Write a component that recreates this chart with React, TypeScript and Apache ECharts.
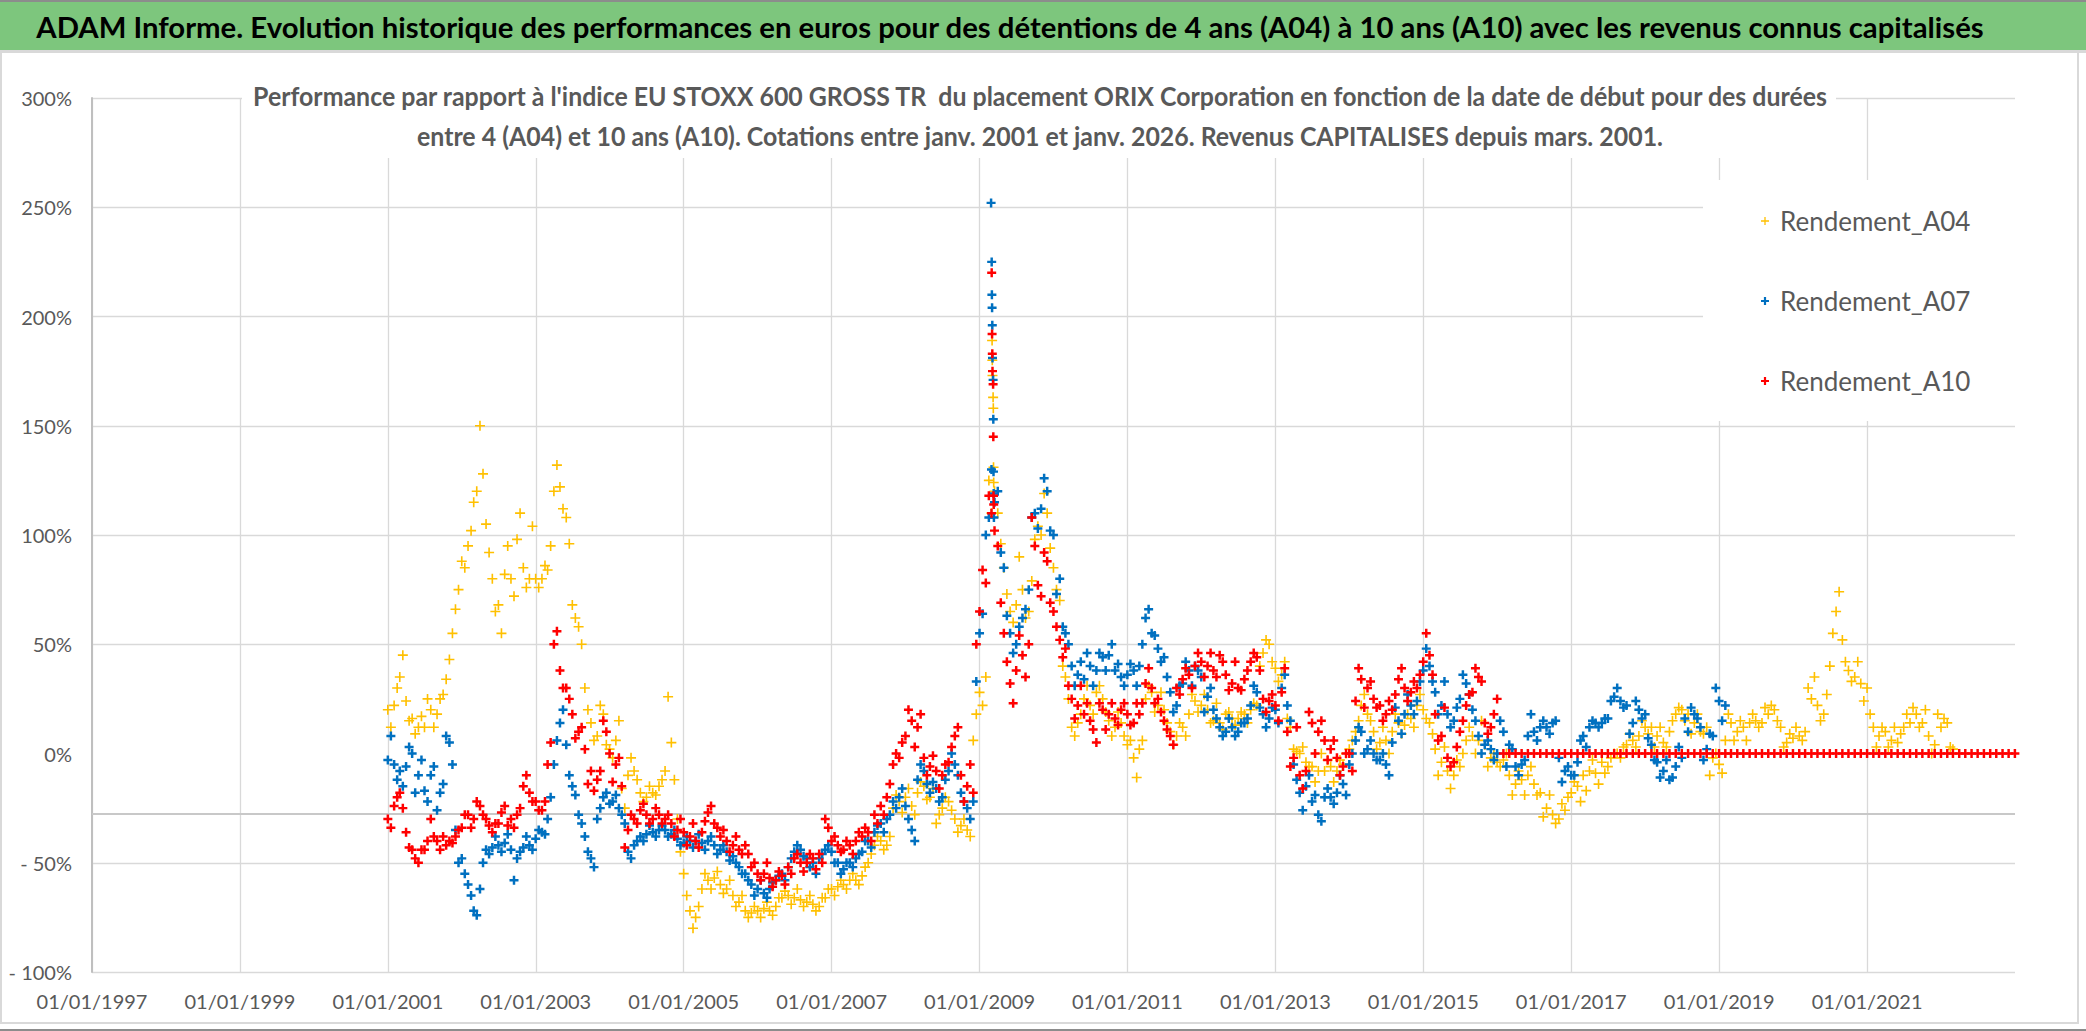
import * as echarts from 'echarts';
import { useEffect, useRef } from 'react';

// readings on the 1st of each month, first value = janv. 2001
const A04 = [
  20, 22, 35, 24, 16, 12, 12, 20, 18, 27, 43, 66,
  88, 95, 115, 150, 105, 80, 68, 82, 80, 98, 85, 80,
  80, 80, 84, 120, 122, 108, 68, 58, 30, 14, 8, 18,
  2, 6, -16, -10, -8, -18, -20, -18, -15, -8, 5, -30,
  -55, -72, -75, -62, -58, -57, -60, -62, -65, -68, -72, -73,
  -72, -71, -72, -70, -66, -65, -66, -67, -68, -69, -70, -66,
  -62, -61, -60, -58, -58, -56, -50, -42, -40, -42, -25, -22,
  -20, -24, -18, -15, -20, -32, -25, -22, -30, -33, -35, 6,
  28, 35, 110, 110, 85, 65, 68, 75, 65, 98, 100, 110,
  85, 70, 35, 12, 14, 25, 22, 28, 25, 15, 12, 14,
  4, -2, 2, 25, 28, 22, 20, 10, 8, 12, 18, 24,
  22, 20, 15, 14, 18, 16, 16, 18, 20, 22, 46, 50,
  39, 36, 16, 2, 0, -4, -6, -8, -8, -6, -8, -5,
  2, 10, 22, 18, 10, 5, 6, 10, 14, 13, 16, 22,
  20, 14, 2, -4, -8, -10, -6, 6, 8, 6, 4, -2,
  -4, -3, -10, -14, -12, -10, -14, -18, -25, -28, -30, -26,
  -18, -15, -10, -8, -9, -4, -6, 0, -2, 4, 6, 8,
  12, 12, 8, 5, 10, 18, 20, 18, 14, 10, 12, -2,
  -5, 6, 14, 10, 12, 14, 15, 14, 18, 20, 12, 5,
  7, 8, 10, 25, 22, 18, 40, 65, 52, 38, 35, 32,
  30, 12, 8, 10, 6, 5, 12, 14, 18, 14, 8, 4,
  12, 14, 2,
];

// readings on the 16th of each month (other edge of the cloud)
const A04_MID = [
  12, 30, 45, 15, 9, 17, 25, 12, 25, 34, 55, 75,
  85, 102, 120, 128, 92, 65, 55, 95, 72, 110, 76, 104,
  76, 86, 95, 132, 112, 96, 62, 50, 20, 6, 22, 4,
  -2, 15, -25, -2, -12, -22, -15, -19, -12, 26, -12, -45,
  -65, -80, -70, -55, -62, -54, -64, -58, -70, -65, -75, -70,
  -75, -68, -74, -66, -63, -69, -62, -70, -65, -72, -66, -62,
  -65, -58, -62, -55, -60, -52, -46, -38, -44, -38, -19, -27,
  -16, -28, -13, -21, -16, -28, -20, -26, -36, -30, -38, 18,
  22, 125, 120, 96, 73, 60, 90, 62, 79, 104, 119, 94,
  75, 40, 25, 8, 18, 31, 18, 31, 19, 8, 19, 8,
  6, -11, 6, 31, 19, 28, 14, 4, 14, 8, 27, 19,
  27, 14, 23, 11, 19, 13, 19, 14, 23, 40, 52, 42,
  33, 42, 12, 1, 3, -6, -13, 0, -3, -13, -3, 0,
  6, 15, 27, 15, 2, 12, 0, 18, 9, 18, 12, 27,
  16, 9, -10, 3, -16, -3, 0, 12, 0, 15, -6, 0,
  -6, 0, -19, -8, -19, -6, -19, -29, -19, -32, -23, -20,
  -13, -22, -17, -3, -14, -9, -2, 0, 3, 9, 3, 15,
  9, 3, 12, 3, 15, 21, 15, 9, 18, 9, -10, 0,
  -9, 18, 6, 15, 6, 18, 12, 21, 22, 15, 3, 9,
  12, 6, 30, 35, 15, 27, 55, 74, 42, 33, 42, 24,
  18, 3, 12, 3, 12, 9, 18, 21, 12, 20, 0, 18,
  16, 3,
];

const A07 = [
  -3, -5, -8, -6, 0, -10, -17, -10, -26, -14, 5, -35,
  -48, -60, -72, -62, -44, -43, -42, -41, -44, -48, -43, -42,
  -39, -36, -30, -5, 14, 4, -15, -28, -38, -48, -30, -20,
  -23, -19, -28, -45, -42, -38, -37, -36, -35, -35, -37, -39,
  -41, -40, -40, -41, -40, -42, -44, -45, -47, -52, -55, -60,
  -62, -64, -62, -58, -55, -52, -45, -44, -48, -50, -48, -44,
  -45, -50, -53, -50, -48, -45, -40, -36, -32, -30, -22, -20,
  -24, -35, -12, -8, -18, -16, -20, -8, -5, -18, -25, -22,
  55, 100, 130, 120, 85, 55, 50, 62, 75, 110, 112, 120,
  100, 80, 55, 40, 36, 34, 40, 38, 44, 45, 38, 35,
  36, 38, 40, 62, 55, 48, 44, 28, 22, 32, 38, 40,
  35, 26, 20, 12, 10, 12, 10, 14, 22, 28, 18, 16,
  20, 30, 22, -5, -18, -15, -22, -28, -20, -20, -18, -14,
  -5, 6, 10, 2, 0, -3, -5, 5, 15, 18, 22, 24,
  38, 40, 28, 22, 18, 15, 25, 32, 20, 8, 4, 2,
  0, 10, 4, -6, -5, 8, 10, 12, 12, 14, -2, -8,
  -10, -4, 8, 12, 14, 14, 16, 26, 24, 22, 14, 20,
  18, 4, -4, -8, -12, -6, -2, 10, 18, 12, 2, 8,
  24, 22,
];

const A07_MID = [
  8, -12, -15, 3, -18, -3, -22, -6, -18, 8, -5, -50,
  -55, -65, -74, -50, -46, -38, -45, -37, -58, -45, -38, -44,
  -35, -37, -20, 6, 20, -10, -19, -32, -45, -52, -25, -18,
  -22, -25, -32, -48, -40, -40, -33, -38, -33, -38, -35, -42,
  -38, -43, -37, -44, -38, -46, -42, -49, -50, -55, -58, -65,
  -58, -66, -59, -56, -58, -48, -42, -47, -52, -55, -46, -42,
  -50, -55, -50, -52, -46, -40, -43, -33, -36, -28, -25, -16,
  -30, -40, -5, -14, -13, -22, -12, 0, -10, -22, -30, 33,
  64, 108, 115, 92, 63, 46, 58, 66, 108, 103, 126, 102,
  73, 58, 50, 31, 42, 46, 31, 46, 38, 50, 41, 31,
  41, 31, 50, 66, 54, 42, 35, 19, 31, 42, 31, 38,
  19, 30, 16, 8, 16, 8, 14, 16, 31, 21, 12, 21,
  14, 36, 15, -12, -26, -10, -19, -31, -16, -23, -10, -19,
  0, 12, 0, 6, -3, 0, -10, 21, 9, 27, 18, 33,
  48, 33, 18, 33, 12, 21, 36, 27, 15, 0, 6, -3,
  15, -6, 2, -10, -3, 18, 6, 15, 9, 15, -13, -6,
  -10, 6, 3, 15, 12, 16, 24, 30, 21, 9, 24, 16,
  7, -3, -11, -3, -11, 3, 16, 21, 16, -3, 9, 30,
  15,
];

const A10 = [
  -30, -24, -18, -36, -44, -50, -44, -30, -40, -38, -40, -38,
  -34, -28, -30, -24, -30, -36, -32, -24, -30, -28, -15, -18,
  -22, -26, -5, 50, 38, 30, 18, 10, 2, -8, -12, 15,
  0, -5, -15, -35, -30, -26, -28, -30, -28, -30, -32, -35,
  -36, -38, -40, -36, -27, -32, -38, -40, -42, -44, -42, -52,
  -55, -55, -57, -58, -56, -52, -48, -50, -50, -48, -46, -30,
  -40, -42, -44, -42, -40, -38, -36, -28, -24, -20, -5, -2,
  8, 15, 12, -2, -6, -8, -10, -4, 8, -10, -15, -18,
  65, 78, 110, 95, 55, 32, 38, 45, 50, 95, 72, 88,
  65, 52, 48, 25, 22, 18, 15, 5, 20, 18, 16, 20,
  18, 14, 18, 32, 30, 25, 15, 8, 30, 34, 36, 40,
  42, 40, 38, 45, 36, 32, 30, 34, 42, 44, 25, 24,
  22, 28, 10, -2, -10, -8, 14, 10, 6, 2, -2, -6,
  0, 24, 34, 30, 25, 22, 18, 20, 34, 30, 28, 30,
  42, 45, 18, 8, -2, -4, 10, 22, 28, 35, 14, 12,
  25, 0, 0, 0, 0, 0, 0, 0, 0, 0, 0, 0,
  0, 0, 0, 0, 0, 0, 0, 0, 0, 0, 0, 0,
  0, 0, 0, 0, 0, 0, 0, 0, 0, 0, 0, 0,
  0, 0, 0, 0, 0, 0, 0, 0, 0, 0, 0, 0,
  0, 0, 0, 0, 0, 0, 0, 0, 0, 0, 0, 0,
  0, 0, 0, 0, 0, 0, 0, 0, 0, 0, 0, 0,
  0, 0, 0, 0, 0, 0, 0, 0, 0, 0, 0, 0,
  0,
];

const A10_MID = [
  -34, -20, -25, -43, -48, -44, -40, -38, -44, -42, -41, -35,
  -28, -34, -22, -28, -33, -32, -27, -33, -34, -25, -10, -22,
  -26, -22, 5, 56, 30, 25, 7, 12, -14, -17, -8, 10,
  -13, -2, -43, -28, -32, -23, -32, -25, -32, -28, -38, -30,
  -42, -32, -43, -31, -24, -34, -35, -45, -38, -46, -46, -50,
  -58, -50, -61, -54, -60, -55, -46, -54, -46, -53, -50, -34,
  -38, -45, -40, -46, -36, -34, -40, -32, -28, -14, 0, 5,
  20, 3, 18, -10, -1, -16, -5, 3, 12, -22, -5, 50,
  84, 118, 102, 69, 42, 23, 54, 35, 108, 77, 92, 69,
  58, 44, 31, 16, 31, 23, 11, 23, 11, 23, 13, 23,
  13, 23, 23, 39, 23, 19, 11, 4, 27, 39, 30, 46,
  35, 46, 35, 42, 29, 42, 29, 38, 46, 38, 19, 27,
  15, 39, -6, 12, -16, 19, 0, 15, -3, 6, -10, 0,
  -8, 39, 21, 33, 21, 15, 24, 27, 39, 24, 33, 36,
  55, 36, 6, 21, -6, 3, 15, 27, 39, 33, 9, 18,
];

// the few days of the march 2009 spike
const SPIKE_A04_DATES = ['2009-03-04', '2009-03-05', '2009-03-06', '2009-03-09', '2009-03-10', '2009-03-11', '2009-03-12'];
const SPIKE_A04 = [189, 180, 173, 163, 158, 131, 124];
const SPIKE_A07_DATES = ['2009-02-27', '2009-03-02', '2009-03-03', '2009-03-04', '2009-03-05', '2009-03-06', '2009-03-09', '2009-03-10', '2009-03-11', '2009-03-12', '2009-03-13'];
const SPIKE_A07 = [252, 225, 210, 204, 196, 181, 171, 153, 129, 119, 108];
const SPIKE_A10_DATES = ['2009-03-02', '2009-03-04', '2009-03-05', '2009-03-06', '2009-03-09', '2009-03-10', '2009-03-11', '2009-03-12'];
const SPIKE_A10 = [220, 192, 183, 175, 169, 145, 118, 114];

const SERIES_NAMES = ['Rendement_A04', 'Rendement_A07', 'Rendement_A10'];
const COLORS = ['#FFC000', '#0070C0', '#FF0000'];
const Y_TICKS = [-100, -50, 0, 50, 100, 150, 200, 250, 300];
const AXIS_LINE_VALUE = -27.4;

const TITLE = 'ADAM Informe. Evolution historique des performances en euros pour des détentions de 4 ans (A04) à 10 ans (A10) avec les revenus connus capitalisés';
const SUBTITLE_1 = "Performance par rapport à l'indice EU STOXX 600 GROSS TR  du placement ORIX Corporation en fonction de la date de début pour des durées";
const SUBTITLE_2 = 'entre 4 (A04) et 10 ans (A10). Cotations entre janv. 2001 et janv. 2026. Revenus CAPITALISES depuis mars. 2001.';

const BASE = Date.UTC(1997, 0, 1);
const YEAR_MS = 365.25 * 86400000;
const dayX = (month: number, day: number) => (Date.UTC(2001, month, day) - BASE) / YEAR_MS;
const dateX = (d: string) => (Date.parse(d + 'T00:00:00Z') - BASE) / YEAR_MS;

const toPoints = (vals: number[], mids: number[], dates: string[], extra: number[]) => [
  ...vals.map((v, i) => [dayX(i, 1), v]),
  ...mids.map((v, i) => [dayX(i, 16), v]),
  ...extra.map((v, i) => [dateX(dates[i]), v]),
];

const PLUS_THIN = 'path://M3.35,0H4.65V3.35H8V4.65H4.65V8H3.35V4.65H0V3.35H3.35Z';
const PLUS_BOLD = 'path://M2.9,0H5.1V2.9H8V5.1H5.1V8H2.9V5.1H0V2.9H2.9Z';

const measure = (text: string, font: string) => {
  const ctx = document.createElement('canvas').getContext('2d');
  if (!ctx) return 1;
  ctx.font = font;
  return ctx.measureText(text).width;
};

const App = () => {
  const chartRef = useRef<HTMLDivElement>(null);

  useEffect(() => {
    document.body.style.margin = '0';
    if (!chartRef.current) return;
    const chart = echarts.init(chartRef.current, null, { renderer: 'svg' });

    const titleFont = 'bold 28px Lato';
    const subFont = 'bold 26px Lato';
    const titleScale = 1949 / measure(TITLE, titleFont);
    const subScale = 1577 / measure(SUBTITLE_1, subFont);

    const textEl = (text: string, x: number, y: number, font: string, fill: string, scaleX: number) => ({
      type: 'text',
      x,
      y,
      scaleX,
      z: 5,
      style: { text, font, fill, align: 'center', verticalAlign: 'middle' },
    });

    const splitColors = Y_TICKS.map((t) => (t === 0 ? 'rgba(0,0,0,0)' : '#D9D9D9'));

    chart.setOption({
      animation: false,
      backgroundColor: '#FFFFFF',
      grid: { left: 92, top: 98, width: 1923, height: 874 },
      legend: {
        orient: 'vertical',
        left: 1756,
        top: 201,
        itemGap: 50,
        itemWidth: 8,
        itemHeight: 8,
        data: SERIES_NAMES,
        textStyle: { fontFamily: 'Lato', fontSize: 26, color: '#595959', lineHeight: 30, padding: [0, 0, 0, 6] },
      },
      xAxis: {
        type: 'value',
        min: 0,
        max: 26,
        interval: 2,
        axisLine: { show: false },
        axisTick: { show: false },
        splitLine: { show: true, showMaxLine: false, lineStyle: { color: '#D9D9D9', width: 1.3 } },
        axisLabel: {
          formatter: (v: number) => `01/01/${1997 + v}`,
          showMaxLabel: false,
          color: '#595959',
          fontFamily: 'Lato',
          fontSize: 20,
          margin: 19,
        },
      },
      yAxis: {
        type: 'value',
        min: -100,
        max: 300,
        interval: 50,
        axisLine: { show: true, lineStyle: { color: '#BFBFBF', width: 2 } },
        axisTick: { show: false },
        splitLine: { show: true, lineStyle: { color: splitColors, width: 1.3 } },
        axisLabel: {
          formatter: (v: number) => (v < 0 ? `- ${-v}%` : `${v}%`),
          color: '#595959',
          fontFamily: 'Lato',
          fontSize: 20,
          margin: 20,
        },
      },
      series: [
        {
          name: SERIES_NAMES[0],
          type: 'scatter',
          symbol: PLUS_THIN,
          symbolSize: 10,
          itemStyle: { color: COLORS[0], opacity: 1 },
          data: toPoints(A04, A04_MID, SPIKE_A04_DATES, SPIKE_A04),
          markLine: {
            silent: true,
            symbol: 'none',
            z: 1,
            label: { show: false },
            lineStyle: { color: '#C8C8C8', width: 2, type: 'solid' },
            data: [{ yAxis: AXIS_LINE_VALUE }],
          },
        },
        {
          name: SERIES_NAMES[1],
          type: 'scatter',
          symbol: PLUS_BOLD,
          symbolSize: 9,
          itemStyle: { color: COLORS[1], opacity: 1 },
          data: toPoints(A07, A07_MID, SPIKE_A07_DATES, SPIKE_A07),
        },
        {
          name: SERIES_NAMES[2],
          type: 'scatter',
          symbol: PLUS_BOLD,
          symbolSize: 9,
          itemStyle: { color: COLORS[2], opacity: 1 },
          data: toPoints(A10, A10_MID, SPIKE_A10_DATES, SPIKE_A10),
        },
      ],
      graphic: {
        elements: [
          { type: 'rect', z: 0, shape: { x: 0, y: 0, width: 2086, height: 50 }, style: { fill: '#7DC67D' } },
          { type: 'line', z: 0, shape: { x1: 0, y1: 1, x2: 2086, y2: 1 }, style: { stroke: '#8C8C8C', lineWidth: 2 } },
          { type: 'line', z: 0, shape: { x1: 0, y1: 51.5, x2: 2086, y2: 51.5 }, style: { stroke: '#D9D9D9', lineWidth: 3 } },
          { type: 'rect', z: 0, shape: { x: 1, y: 52, width: 2077, height: 971 }, style: { fill: 'none', stroke: '#D9D9D9', lineWidth: 2 } },
          { type: 'line', z: 0, shape: { x1: 0, y1: 1030, x2: 2086, y2: 1030 }, style: { stroke: '#8C8C8C', lineWidth: 2 } },
          { type: 'rect', z: 1, shape: { x: 242, y: 62, width: 1594, height: 96 }, style: { fill: '#FFFFFF' } },
          { type: 'rect', z: 1, shape: { x: 1703, y: 180, width: 312, height: 241 }, style: { fill: '#FFFFFF' } },
          textEl(TITLE, 1010, 27.5, titleFont, '#000000', titleScale),
          textEl(SUBTITLE_1, 1040, 96, subFont, '#595959', subScale),
          textEl(SUBTITLE_2, 1040, 136, subFont, '#595959', subScale),
        ],
      },
    });

    const onResize = () => chart.resize();
    window.addEventListener('resize', onResize);
    return () => {
      window.removeEventListener('resize', onResize);
      chart.dispose();
    };
  }, []);

  return <div ref={chartRef} style={{ width: 2086, height: 1031 }} />;
};

export default App;
